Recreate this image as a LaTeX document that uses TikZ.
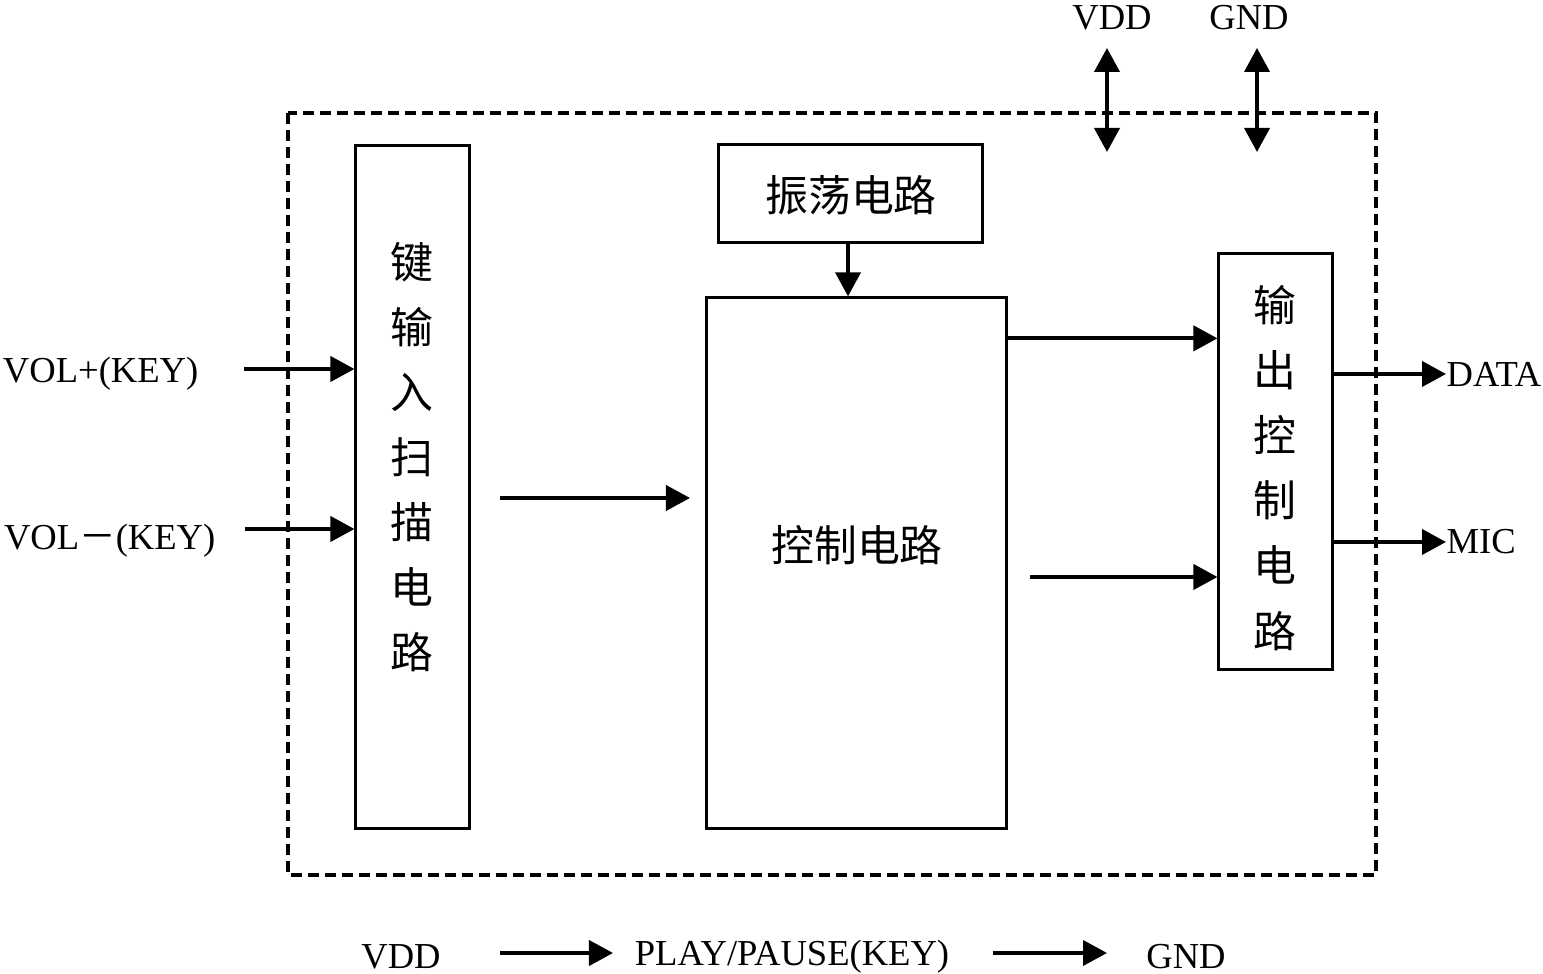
\documentclass[tikz,border=0pt]{standalone}
\usepackage{fontspec}
\setmainfont{Liberation Serif}
\newfontfamily\cjk{Noto Sans CJK SC}
\usepackage{tikz}
\usetikzlibrary{arrows.meta}

\begin{document}
\begin{tikzpicture}[x=0.01cm, y=-0.01cm,
    every node/.style={font=\fontsize{10.4}{12}\selectfont},
    block/.style={draw, line width=0.85pt, inner sep=0pt},
    zh/.style={font=\cjk\fontsize{12.2}{18.5}\selectfont, align=center, inner sep=0pt},
    sig/.style={inner sep=0pt},
    arr/.style={-{Triangle[length=0.24cm, width=0.25cm]}, line width=1.1pt},
    darr/.style={{Triangle[length=0.24cm, width=0.25cm]}-{Triangle[length=0.24cm, width=0.25cm]}, line width=1.1pt}]

    \useasboundingbox (0,0) rectangle (1543,974);

    % Chip outline
    \draw[dashed, dash pattern=on 0.11cm off 0.06cm, line width=1pt] (288,113) rectangle (1376,875);

    % Blocks
    \node[block, minimum width=1.13cm, minimum height=6.82cm] (scan) at (412.5,487) {};
    \node[block, minimum width=2.63cm, minimum height=0.97cm] (osc) at (850.5,193.5) {};
    \node[block, minimum width=2.99cm, minimum height=5.30cm] (ctrl) at (856.5,563) {};
    \node[block, minimum width=1.13cm, minimum height=4.15cm] (out) at (1275.5,461.5) {};

    % Block texts
    \node[zh] (scant) at (412,457) {键\\输\\入\\扫\\描\\电\\路};
    \node[zh] (osct) at (851,195) {振荡电路};
    \node[zh] (ctrlt) at (857,545) {控制电路};
    \node[zh] (outt) at (1275,468) {输\\出\\控\\制\\电\\路};

    % Signal labels
    \node[sig, anchor=east] (volp) at (199,374) {VOL+(KEY)};
    \node[sig, anchor=east] (volm) at (216,541) {VOL{\cjk －}(KEY)};
    \node[sig, anchor=west] (data) at (1446,374) {DATA};
    \node[sig, anchor=west] (mic) at (1446,542) {MIC};
    \node[sig] (vdd) at (1112,18) {VDD};
    \node[sig] (gnd) at (1249,18) {GND};
    \node[sig] (bvdd) at (401,957) {VDD};
    \node[sig] (play) at (792,957) {PLAY/PAUSE(KEY)};
    \node[sig] (bgnd) at (1186,957) {GND};

    % Free ends
    \coordinate (vpin) at (244,369);
    \coordinate (vmin) at (245,529);
    \coordinate (sa) at (500,498);
    \coordinate (sb) at (690,498);
    \coordinate (cb) at (1030,577);
    \coordinate (vt) at (1107,48);
    \coordinate (vb) at (1107,152);
    \coordinate (gt) at (1257,48);
    \coordinate (gb) at (1257,152);
    \coordinate (p1) at (500,953);
    \coordinate (p2) at (613,953);
    \coordinate (p3) at (993,953);
    \coordinate (p4) at (1107,953);

    % Connections
    \draw[arr] (vpin) -- (scan.west |- vpin);
    \draw[arr] (vmin) -- (scan.west |- vmin);
    \draw[arr] (sa) -- (sb);
    \draw[arr] (osc.south -| 848,0) -- (ctrl.north -| 848,0);
    \draw[arr] ([yshift=-0.42cm]ctrl.north east) -- ([yshift=-0.42cm]ctrl.north east -| out.west);
    \draw[arr] (cb) -- (out.west |- cb);
    \draw[arr] (out.east |- data.west) -- (data.west);
    \draw[arr] (out.east |- mic.west) -- (mic.west);
    \draw[darr] (vb) -- (vt);
    \draw[darr] (gb) -- (gt);
    \draw[arr] (p1) -- (p2);
    \draw[arr] (p3) -- (p4);

\end{tikzpicture}
\end{document}
